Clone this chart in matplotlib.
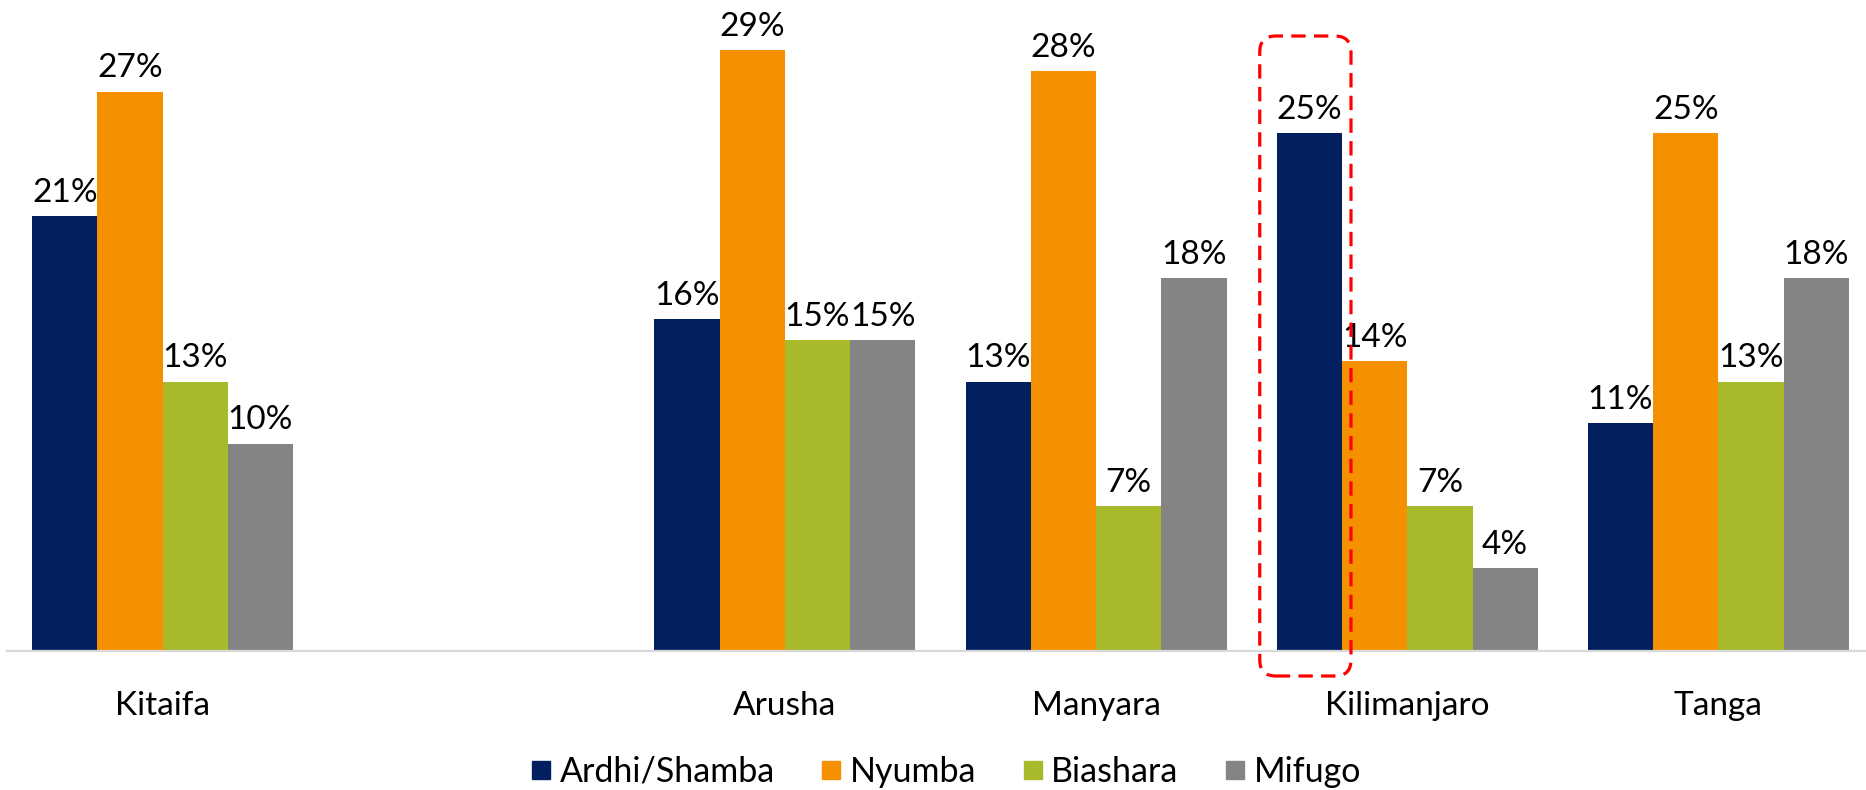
import numpy as np
import matplotlib
matplotlib.use("AGG")
import matplotlib.pyplot as plt
from matplotlib.patches import FancyBboxPatch
from matplotlib.lines import Line2D
from matplotlib.transforms import IdentityTransform

plt.rcParams['font.family'] = ['Lato', 'DejaVu Sans']

regions = ['Kitaifa', '', 'Arusha', 'Manyara', 'Kilimanjaro', 'Tanga']
series = ['Ardhi/Shamba', 'Nyumba', 'Biashara', 'Mifugo']
ardhi = [21, np.nan, 16, 13, 25, 11]
nyumba = [27, np.nan, 29, 28, 14, 25]
biashara = [13, np.nan, 15, 7, 7, 13]
mifugo = [10, np.nan, 15, 18, 4, 18]
colors = ['#02205F', '#F59100', '#A8B92A', '#848484']

W, H = 1866, 790
fig = plt.figure(figsize=(W / 100, H / 100), dpi=100)
base_px = 651
ax = fig.add_axes([7 / W, (H - base_px) / H, 1867 / W, base_px / H])

x = np.arange(len(regions))
bw = 0.2097
bars = []
for i, (name, vals) in enumerate(zip(series, [ardhi, nyumba, biashara, mifugo])):
    pos = x + (i - 1.5) * bw
    b = ax.bar(pos, vals, width=bw, color=colors[i], label=name, zorder=2)
    bars.append(b)
    for p, v in zip(pos, vals):
        if not np.isnan(v):
            ax.annotate(f'{v:.0f}%', (p, v), xytext=(0, 6), textcoords='offset points',
                        ha='center', va='bottom', fontsize=24, color='#000000')

ax.set_xlim(-0.5, len(regions) - 0.5)
ax.set_ylim(0, 31.42)
ax.set_xticks(x)
ax.set_xticklabels(regions, fontsize=24)
ax.tick_params(axis='x', length=0, pad=29)
ax.set_yticks([])
for s in ['top', 'right', 'left']:
    ax.spines[s].set_visible(False)
ax.spines['bottom'].set_color('#D9D9D9')
ax.spines['bottom'].set_linewidth(1.6)

handles = [Line2D([], [], marker='s', linestyle='none', markersize=13, color=c) for c in colors]
fig.legend(handles, series, loc='center', bbox_to_anchor=(0.506, 0.023), ncol=4,
           frameon=False, fontsize=24.5, handletextpad=0.15, columnspacing=1.25,
           handlelength=0.8)

# red dashed highlight round the Kilimanjaro Ardhi/Shamba bar
fig.canvas.draw()
bb = bars[0][4].get_window_extent()
x0, x1 = bb.x0 - 17, bb.x1 + 9
y0 = bb.y0 - 25
y1 = bb.y1 + 97
box = FancyBboxPatch((x0, y0), x1 - x0, y1 - y0, boxstyle='round,pad=0,rounding_size=16',
                     transform=IdentityTransform(), fill=False, edgecolor='#FF0000',
                     linewidth=2.3, linestyle=(0, (4.5, 2.6)), zorder=5)
fig.patches.append(box)

fig.savefig('out.png', dpi=100)
